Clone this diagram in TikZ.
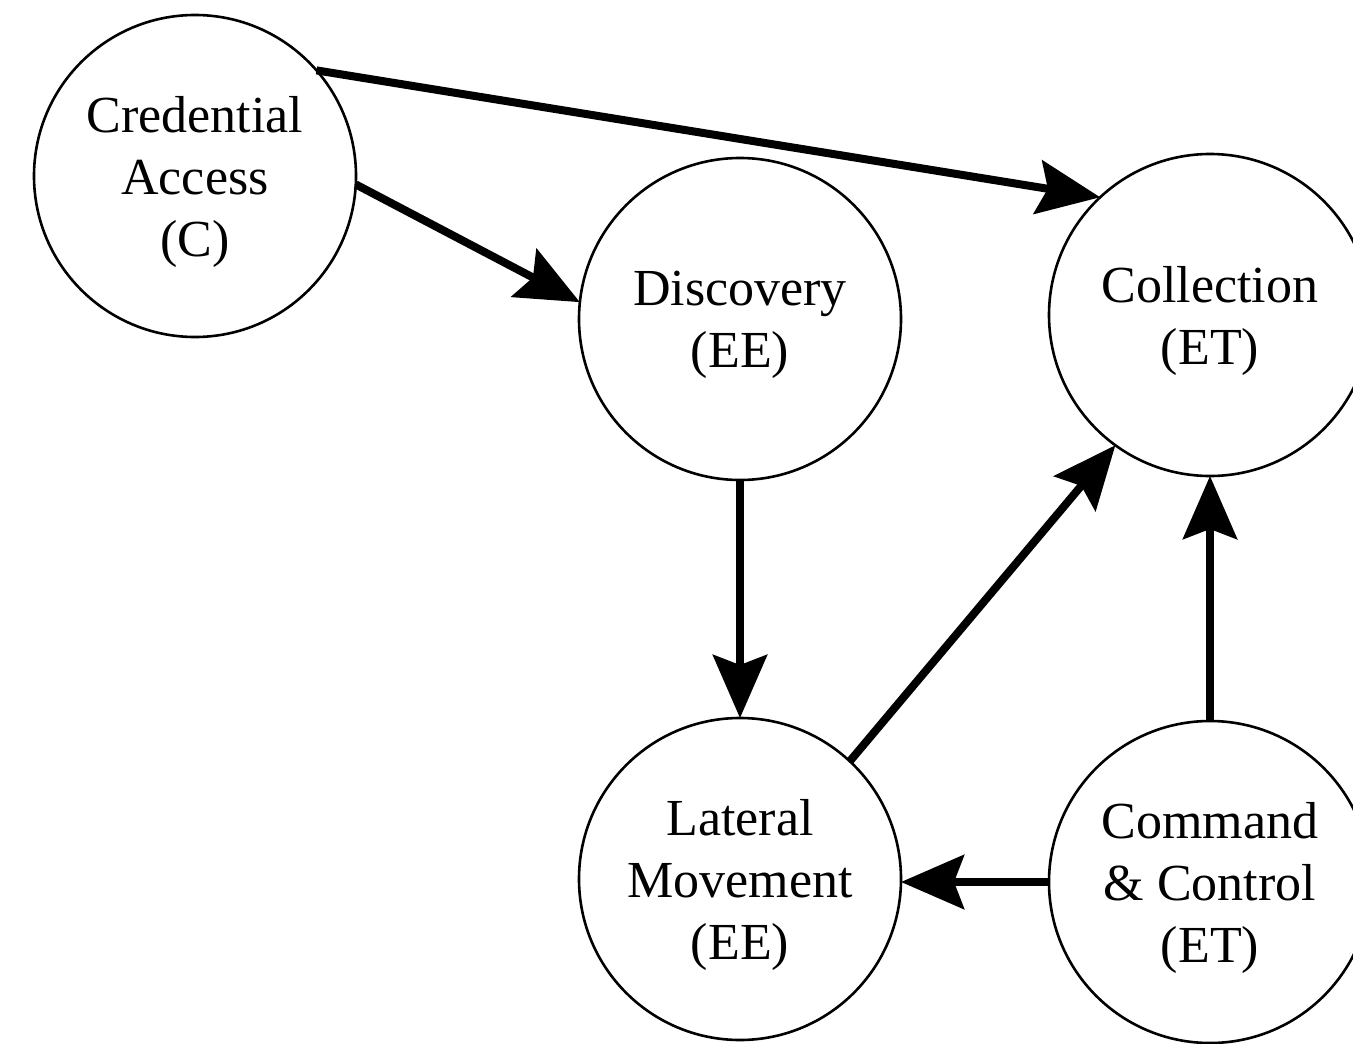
\documentclass[tikz,border=0pt]{standalone}
\usepackage{fontspec}
\setmainfont{Liberation Serif}
\usetikzlibrary{arrows.meta}

\tikzset{
  state/.style={circle, draw=black, line width=2.6pt, minimum size=322pt,
    inner sep=0pt, outer sep=0pt, align=center, text depth=0pt,
    font=\fontsize{52}{62}\selectfont},
  flow/.style={line width=8pt, draw=black,
    -{Stealth[length=63pt, width=54pt, inset=10pt]}},
}

\begin{document}
\begin{tikzpicture}[x=1pt, y=-1pt]
  \path[use as bounding box, clip] (0,0) rectangle (1353,1044);

  % tactic states
  \node[state] (cred) at (195,176) {Credential\\Access\\(C)};
  \node[state] (disc) at (740,319) {Discovery\\(EE)};
  \node[state] (coll) at (1210,315) {Collection\\(ET)};
  \node[state] (lat)  at (740,879) {Lateral\\Movement\\(EE)};
  \node[state] (cc)   at (1210,882) {Command\\\& Control\\(ET)};

  % transitions
  \draw[flow] (cred.41) -- (coll.133);
  \draw[flow] (cred.-3) -- (disc.174);
  \draw[flow] (disc.south) -- (lat.north);
  \draw[flow] (lat.47) -- (coll.234);
  \draw[flow] (cc.north) -- (coll.south);
  \draw[flow] (cc.west) -- (cc.west -| lat.east);
\end{tikzpicture}
\end{document}
